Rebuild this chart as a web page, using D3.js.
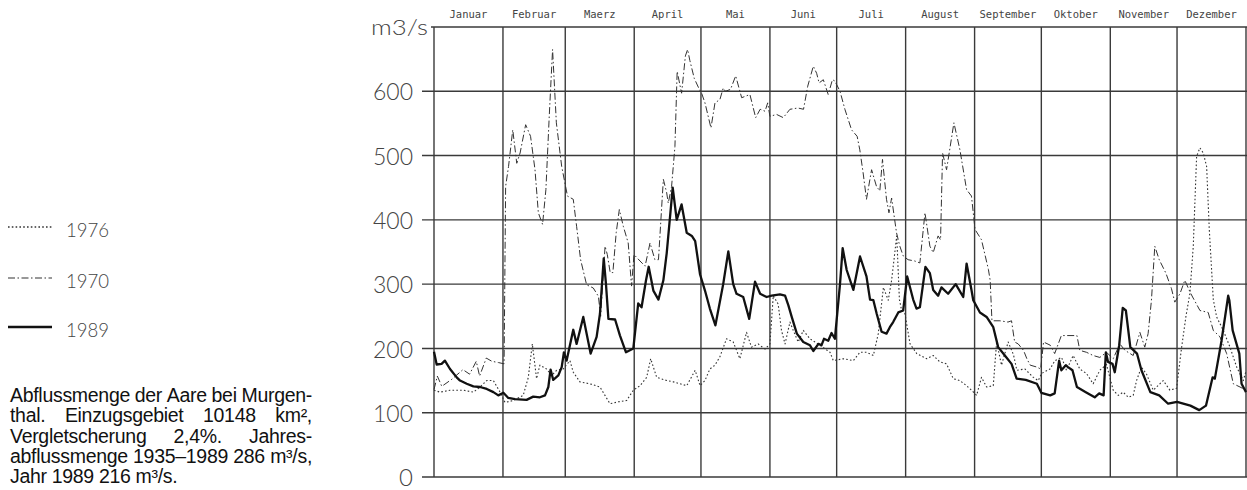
<!DOCTYPE html>
<html>
<head>
<meta charset="utf-8">
<script src="https://cdn.jsdelivr.net/npm/d3@7"></script>
<style>
  body { margin: 0; background: #fff; }
  svg { display: block; }
</style>
</head>
<body>
<div class="container"></div>
<script>
// month names and first day of each month (day of year)
var months = ['Januar','Februar','Maerz','April','Mai','Juni','Juli','August','September','Oktober','November','Dezember'];
var monthStarts = [0,31,59,90,120,151,181,212,243,273,304,334,365];
var yTicks = [0,100,200,300,400,500,600];

var legendYears = ['1976','1970','1989'];
var caption = [
  'Abflussmenge der Aare bei Murgen-',
  'thal. Einzugsgebiet 10148 km²,',
  'Vergletscherung 2,4%. Jahres-',
  'abflussmenge 1935\u20131989 286 m³/s,',
  'Jahr 1989 216 m³/s.'
];

// [day of year, m3/s]
var flow1989 = [
  [0,195],[1.2,175],[3.4,176],[4.9,181],[7.2,168],[10.2,155],[11.7,150],[14.7,145],[17.7,141],[20.7,140],
  [23.7,137],[26.7,132],[28.9,127],[31.2,131],[33.4,123],[36.4,121],[41.6,120],[44.6,125],[47.6,124],[49.9,127],
  [51.4,140],[52.4,167],[53.6,151],[55.9,158],[57.4,171],[58.4,194],[59.6,181],[62.6,229],[64.1,207],[67.1,249],
  [70.4,192],[73.1,218],[74.6,254],[76.3,340],[77.3,300],[78.4,246],[81.4,245],[83.6,220],[86.3,194],[89.6,200],
  [91.8,270],[93.3,264],[95.3,306],[96.5,327],[98.6,290],[100.9,276],[103.1,306],[104.6,348],[107.3,450],[109.1,400],
  [111.3,424],[113.6,380],[115.9,375],[117.4,367],[119.6,315],[121.8,290],[124,262],[126.5,236],[130,300],[132.3,351],
  [134.5,300],[136,285],[139,280],[141.7,246],[144.3,304],[146.6,285],[149.5,280],[151.8,282],[155.5,284],[157.8,282],
  [159.3,267],[160.8,249],[163.1,223],[166,210],[169,205],[170.5,196],[172.8,207],[174.2,205],[175.3,215],[177.2,212],
  [178.7,224],[180.2,215],[182.5,300],[183.7,356],[185.5,322],[188.5,291],[191.5,343],[194.4,312],[196,276],[197.5,275],
  [199,254],[201.2,226],[203.4,223],[204.9,233],[206.4,241],[208.7,256],[210.9,259],[212.7,312],[215.4,276],[216.9,262],
  [218.4,264],[220.9,327],[222.9,317],[224.4,291],[226.6,282],[228.1,295],[231.1,285],[234.5,300],[237.9,280],[239.4,332],
  [241.6,291],[242.4,275],[245.4,256],[248.4,249],[251.4,233],[253.6,202],[256.6,189],[259.6,176],[261.9,153],[266,151],
  [271,145],[273,131],[277,127],[279,130],[281,181],[282,166],[284,174],[285,171],[287,166],[289,140],
  [293,132],[297,124],[299,130],[301,127],[302,194],[303,179],[305,176],[306,163],[308,205],[309.6,263],
  [311,259],[313,202],[316,192],[318,166],[322,132],[326,127],[330,114],[334,117],[340,111],[344,104],
  [347,111],[350,155],[351,153],[354,212],[357,282],[357.5,275],[359,228],[362,192],[363,145],[365,132]
];

var flow1970 = [
  [0,136],[1.5,157],[3.5,141],[8,152],[13,167],[16,160],[19,180],[20.5,157],[23.5,185],[26,180],
  [29,178],[31.5,176],[32.2,452],[33.5,483],[35.4,540],[37.2,488],[38.7,504],[41.2,548],[43.4,530],[45.4,478],
  [46.9,411],[48.8,393],[50.3,447],[51.8,561],[53.3,665],[55,551],[57.4,483],[60,437],[62.6,432],[64.1,390],
  [65.9,338],[68.6,299],[71.6,294],[73.9,281],[74.9,250],[76.9,359],[77.9,346],[79.2,318],[80.4,318],[81.9,380],
  [83.3,416],[85.1,390],[87.3,364],[88.8,297],[89.9,346],[92.6,336],[94.9,328],[97.1,364],[99.3,338],[100.9,338],
  [103.1,463],[104.6,442],[105.3,426],[106.8,452],[108.3,514],[109.3,631],[111.3,597],[113,655],[114,665],[115,648],
  [117,620],[119,605],[120.3,597],[121.8,582],[124.5,543],[126.3,582],[128.5,587],[130,605],[131,600],[133.3,603],
  [135.6,624],[138.3,590],[142,595],[144.6,559],[146.6,572],[148.8,569],[150,582],[151,561],[154,564],[157,559],
  [160,572],[163.6,574],[166.1,572],[168,608],[170.5,639],[172,628],[173.1,613],[175,618],[177.2,595],[179.1,618],
  [180.2,616],[182.5,600],[184.7,572],[187.7,540],[190.2,530],[191.4,509],[192.9,473],[194.4,432],[196.7,478],[198.9,452],
  [200.4,445],[201.6,494],[203.4,432],[204.5,411],[205.7,434],[207.9,380],[209.4,359],[210.9,344],[213.1,338],[216.1,336],
  [218.4,333],[220.7,411],[222.9,359],[224.4,349],[226.6,375],[227.7,369],[228.6,504],[230.4,478],[233.7,551],[236.4,509],
  [239.4,447],[241.6,437],[243.2,385],[246.1,369],[249.2,323],[250,306],[250.8,243],[254.4,243],[258,241],[259.6,243],
  [261,210],[262.6,207],[265,197],[266.5,184],[268,174],[271,171],[272.7,168],[274,210],[277,205],[279,192],
  [282,220],[289,220],[290.3,197],[293.3,194],[296.3,189],[299.3,186],[302.3,194],[305.3,184],[308.3,207],[310.6,197],
  [314.3,189],[317.3,225],[319.5,202],[321,223],[322.5,275],[324,359],[326,338],[329,317],[331.5,293],[333,272],
  [335.3,285],[337.5,306],[339.8,288],[341,280],[344.3,259],[348,256],[350.3,228],[353.3,218],[356.3,192],[359.3,145],
  [362.3,140],[365,135]
];

var flow1976 = [
  [0,135],[2.7,132],[7.2,135],[13.2,135],[17.7,132],[20.7,140],[23.7,150],[26.7,150],[29.7,132],[31.9,116],
  [35.7,119],[40.1,127],[42.4,155],[44.2,207],[46.1,153],[47.6,174],[50.6,168],[52.9,158],[55.1,166],[58.1,168],
  [61.1,181],[62.6,163],[65.6,148],[70.1,145],[74.6,140],[79.1,114],[82.9,117],[86.6,119],[89.6,135],[92.6,142],
  [95.6,155],[97.4,184],[100.1,155],[104.6,150],[107.6,148],[113.6,142],[117.4,166],[119.6,142],[121.8,150],[124,168],
  [126.3,174],[128.5,187],[131.5,215],[134.5,210],[137.5,184],[140.5,225],[142.7,202],[145.7,207],[148.8,199],[151,207],
  [152.5,282],[154.7,269],[156.2,228],[157.8,207],[160,241],[161.5,228],[163.7,210],[166,228],[169,215],[173.5,205],
  [178,194],[179.5,181],[184,184],[188.5,181],[191.5,194],[194.4,194],[197.5,189],[199.7,223],[202,295],[204.2,275],
  [205.7,306],[208,375],[209.2,276],[210.2,259],[211.7,254],[214,207],[217,192],[221.5,184],[224.4,189],[227.4,179],
  [230.4,176],[233.4,153],[236.4,150],[239.4,142],[241.6,135],[243.9,127],[246.1,155],[248.4,140],[251.4,142],[252.9,210],
  [255.1,174],[258.1,210],[260.5,190],[262,166],[265.6,168],[269.4,155],[271.6,150],[273.1,161],[276.9,168],[279.1,181],
  [282.1,186],[284.3,166],[287.3,189],[290.3,168],[293.3,161],[296.3,145],[299.3,166],[302.3,175],[305.3,135],[307.6,127],
  [309.8,132],[312.1,124],[314.3,127],[315.8,150],[318,171],[320.3,160],[323.3,135],[327.8,150],[330.8,135],[333.8,138],
  [336,200],[338,250],[339.8,286],[341.3,359],[342.8,499],[344.3,512],[345.8,504],[347.3,483],[348.5,385],[350.3,276],
  [351.8,249],[354.8,228],[357.8,202],[360.8,171],[363.8,150],[365,165]
];

var W = 1247, H = 490;
var gridColor = '#3a3a3a';
var plotFont = 'Lato, Liberation Sans, Arial, sans-serif';

var svg = d3.select('.container').append('svg').attr('width', W).attr('height', H);

var x = d3.scaleLinear().domain([0, 365]).range([434, 1246]);
var y = d3.scaleLinear().domain([0, 700]).range([477, 27]);

// horizontal grid
svg.append('g').selectAll('line')
  .data(yTicks)
  .enter().append('line')
  .attr('x1', 422).attr('x2', W)
  .attr('y1', function(d){ return y(d); })
  .attr('y2', function(d){ return y(d); })
  .attr('stroke', gridColor).attr('stroke-width', 1.4);

// top border
svg.append('line')
  .attr('x1', 431).attr('x2', W)
  .attr('y1', y(700)).attr('y2', y(700))
  .attr('stroke', gridColor).attr('stroke-width', 1.4);

// month lines
svg.append('g').selectAll('line')
  .data(monthStarts)
  .enter().append('line')
  .attr('x1', function(d){ return x(d); })
  .attr('x2', function(d){ return x(d); })
  .attr('y1', y(700)).attr('y2', y(0))
  .attr('stroke', gridColor).attr('stroke-width', 1.4);

// y axis labels
var yAxis = d3.axisLeft(y).tickValues(yTicks).tickSize(12).tickPadding(9);
var ya = svg.append('g').attr('transform', 'translate(434,0)').call(yAxis);
ya.select('.domain').remove();
ya.selectAll('.tick line').remove();
ya.selectAll('text')
  .attr('font-family', plotFont).attr('font-weight', 300)
  .attr('font-size', 24).attr('fill', '#444').attr('dy', '0.36em')
  .attr('textLength', 40).attr('lengthAdjust', 'spacingAndGlyphs')
  .filter(function(d){ return d === 0; })
  .attr('textLength', null);

svg.append('text')
  .attr('x', 371).attr('y', 35)
  .attr('font-family', plotFont).attr('font-weight', 300)
  .attr('font-size', 21).attr('fill', '#444')
  .attr('textLength', 57).attr('lengthAdjust', 'spacingAndGlyphs')
  .text('m3/s');

// month labels
svg.append('g').selectAll('text')
  .data(months)
  .enter().append('text')
  .attr('x', function(d, i){ return x((monthStarts[i] + monthStarts[i+1]) / 2); })
  .attr('y', 18)
  .attr('text-anchor', 'middle')
  .attr('font-family', 'DejaVu Sans Mono, monospace')
  .attr('font-size', 10.5).attr('fill', '#444')
  .text(function(d){ return d; });

// series
var line = d3.line()
  .x(function(d){ return x(d[0]); })
  .y(function(d){ return y(d[1]); });

var series = [
  { data: flow1976, width: 1.1, dash: '1.6,2.2', color: '#333' },
  { data: flow1970, width: 1.0, dash: '7,2.5,1.5,2.5', color: '#333' },
  { data: flow1989, width: 2.3, dash: null, color: '#111' }
];

svg.append('g').selectAll('path')
  .data(series)
  .enter().append('path')
  .attr('d', function(d){ return line(d.data); })
  .attr('fill', 'none')
  .attr('stroke', function(d){ return d.color; })
  .attr('stroke-width', function(d){ return d.width; })
  .attr('stroke-dasharray', function(d){ return d.dash; })
  .attr('stroke-linejoin', 'round');

// legend
var legendY = [227, 278, 327];
var leg = svg.append('g').selectAll('g')
  .data(legendYears)
  .enter().append('g');

leg.append('line')
  .attr('x1', 8).attr('x2', 52)
  .attr('y1', function(d, i){ return legendY[i]; })
  .attr('y2', function(d, i){ return legendY[i]; })
  .attr('stroke', function(d, i){ return series[i].color; })
  .attr('stroke-width', function(d, i){ return series[i].width + 0.2; })
  .attr('stroke-dasharray', function(d, i){ return series[i].dash; });

leg.append('text')
  .attr('x', 66)
  .attr('y', function(d, i){ return legendY[i] + 10; })
  .attr('font-family', plotFont).attr('font-weight', 300)
  .attr('font-size', 19).attr('fill', '#444')
  .attr('textLength', 43).attr('lengthAdjust', 'spacingAndGlyphs')
  .text(function(d){ return d; });

// caption, justified like the print
var capX = 10, capW = 302;
var capBase = [402, 422, 443, 463, 483];
caption.forEach(function(str, i){
  var words = str.split(' ');
  var g = svg.append('g');
  var nodes = words.map(function(w){
    return g.append('text')
      .attr('y', capBase[i])
      .attr('font-family', 'Liberation Sans, Arial, Helvetica, sans-serif')
      .attr('font-size', 19.5).attr('letter-spacing', -0.3).attr('fill', '#111')
      .text(w);
  });
  var widths = nodes.map(function(n){ return n.node().getComputedTextLength(); });
  var total = d3.sum(widths);
  var gap = (i < caption.length - 1) ? (capW - total) / (words.length - 1) : 5;
  var cx = capX;
  nodes.forEach(function(n, k){
    n.attr('x', cx);
    cx += widths[k] + gap;
  });
});
</script>
</body>
</html>
